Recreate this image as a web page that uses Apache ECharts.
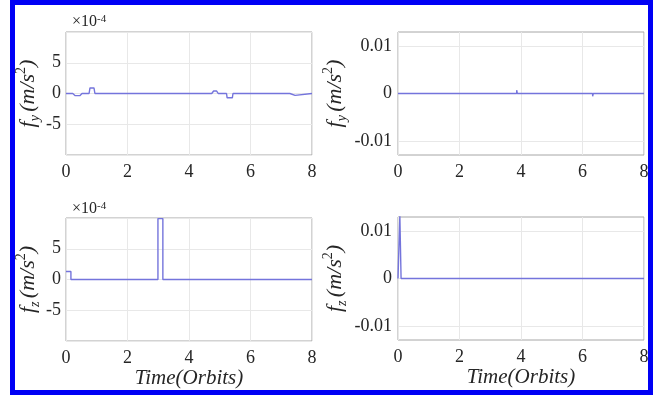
<!DOCTYPE html>
<html>
<head>
<meta charset="utf-8">
<script src="https://cdn.jsdelivr.net/npm/echarts@6/dist/echarts.min.js"></script>
<style>
  html, body { margin: 0; padding: 0; background: #fff; }
  #chart { width: 663px; height: 396px; }
</style>
</head>
<body>
<div id="chart"></div>
<script>
// Time axis (orbits)
const timeTicks = [0, 2, 4, 6, 8];

// f_y, left panel (units of 1e-4 m/s^2)
const fyLeftTime  = [0, 0.22, 0.3, 0.45, 0.52, 0.75, 0.78, 0.91, 0.94, 4.74, 4.8, 4.9, 4.95, 5.22, 5.24, 5.41, 5.43, 7.28, 7.33, 7.45, 7.5, 8];
const fyLeftValue = [0, 0, -0.35, -0.35, 0, 0, 0.9, 0.9, 0, 0, 0.4, 0.4, 0, 0, -0.7, -0.7, 0, 0, -0.3, -0.3, 0, 0];

// f_y, right panel (m/s^2)
const fyRightTime  = [0, 3.86, 3.86, 3.88, 3.88, 4.84, 4.84, 4.86, 4.86, 6.33, 6.33, 6.35, 6.35, 7.31, 7.31, 7.33, 7.33, 8];
const fyRightValue = [0, 0, 0.0007, 0.0007, 0, 0, 0.0004, 0.0004, 0, 0, -0.0006, -0.0006, 0, 0, -0.0004, -0.0004, 0, 0];

// f_z, left panel (units of 1e-4 m/s^2)
const fzLeftTime  = [0, 0.16, 0.16, 2.99, 2.99, 3.15, 3.15, 8];
const fzLeftValue = [1.3, 1.3, 0, 0, 9.9, 9.9, 0, 0];

// f_z, right panel (m/s^2)
const fzRightTime  = [0, 0.06, 0.06, 0.1, 0.1, 8];
const fzRightValue = [0, 0, 0.0133, 0.0133, 0, 0];

// Labelled y ticks
const leftTicks  = [-5, 0, 5];
const rightTicks = [-0.01, 0, 0.01];

const serif = '"Liberation Serif", "DejaVu Serif", serif';
const textColor = '#262626';
const lineColor = '#7474dc';
const gridColor = '#e8e8e8';
const frameColor = '#a6a6a6';

const grids = [
  { left: 66,  top: 32,  width: 246, height: 123 },
  { left: 398, top: 32,  width: 246, height: 123 },
  { left: 66,  top: 218, width: 246, height: 123 },
  { left: 398, top: 217, width: 246, height: 123 }
].map(g => Object.assign({ show: true, borderColor: frameColor, borderWidth: 1, backgroundColor: '#fff' }, g));

const nameRich = {
  i:   { fontFamily: serif, fontStyle: 'italic', fontSize: 22, color: textColor, lineHeight: 28 },
  sub: { fontFamily: serif, fontStyle: 'italic', fontSize: 14, color: textColor, verticalAlign: 'bottom' },
  sup: { fontFamily: serif, fontSize: 14, color: textColor, verticalAlign: 'top' }
};

function yName(sub) {
  return '{i|f}{sub|' + sub + '} {i|(m/s}{sup|2}{i|)}';
}

const hiddenLine = { show: false, onZero: false };

function xAxisFor(idx, withName) {
  return {
    type: 'value', gridIndex: idx, min: 0, max: 8, interval: 2,
    axisLine: hiddenLine, axisTick: { show: false },
    axisLabel: { fontFamily: serif, fontSize: 18, color: textColor, margin: 8 },
    splitLine: { show: true, lineStyle: { color: gridColor, width: 1 } },
    name: withName ? '{t|Time(Orbits)}' : '',
    nameLocation: 'middle', nameGap: 26,
    nameTextStyle: { rich: { t: { fontFamily: serif, fontStyle: 'italic', fontSize: 21, color: textColor } } }
  };
}

function yAxisLeft(idx, sub) {
  return {
    type: 'value', gridIndex: idx, min: -10, max: 10, interval: 5,
    axisLine: hiddenLine, axisTick: { show: false },
    axisLabel: {
      fontFamily: serif, fontSize: 18, color: textColor, margin: 5,
      formatter: v => (leftTicks.indexOf(v) >= 0 ? String(v) : '')
    },
    splitLine: { show: true, lineStyle: { color: gridColor, width: 1 } },
    name: yName(sub), nameLocation: 'middle', nameGap: 23,
    nameTextStyle: { rich: nameRich }
  };
}

function yAxisRight(idx, sub) {
  return {
    type: 'value', gridIndex: idx, min: -0.013, max: 0.013, interval: 0.001,
    axisLine: hiddenLine, axisTick: { show: false },
    axisLabel: {
      fontFamily: serif, fontSize: 18, color: textColor, margin: 6,
      formatter: v => {
        const r = Math.round(v * 1000);
        if (r % 10 !== 0) return '';
        return r === 0 ? '0' : String(r / 1000);
      }
    },
    splitLine: { show: false },
    name: yName(sub), nameLocation: 'middle', nameGap: 49,
    nameTextStyle: { rich: nameRich }
  };
}

function pairs(t, v) { return t.map((x, i) => [x, v[i]]); }

function lineSeries(idx, t, v) {
  return {
    type: 'line', xAxisIndex: idx, yAxisIndex: idx,
    data: pairs(t, v), showSymbol: false, symbol: 'none',
    lineStyle: { color: lineColor, width: 1.4 }, clip: true, silent: true, z: 20
  };
}

// horizontal grid lines at the labelled ticks of the right-hand panels
function gridLineSeries(idx, ticks) {
  return {
    type: 'line', xAxisIndex: idx, yAxisIndex: idx, data: [], silent: true, z: 1,
    markLine: {
      silent: true, symbol: 'none', label: { show: false }, animation: false,
      lineStyle: { color: gridColor, width: 1, type: 'solid' },
      data: ticks.map(y => ({ yAxis: y }))
    }
  };
}

const multStyle = {
  fontFamily: serif, fontWeight: 'normal', fontSize: 16, color: textColor,
  rich: { s: { fontFamily: serif, fontSize: 11, color: textColor, verticalAlign: 'top' } }
};

const chart = echarts.init(document.getElementById('chart'), null, { renderer: 'canvas' });
chart.setOption({
  animation: false,
  backgroundColor: '#fff',
  grid: grids,
  xAxis: [xAxisFor(0, false), xAxisFor(1, false), xAxisFor(2, true), xAxisFor(3, true)],
  yAxis: [yAxisLeft(0, 'y'), yAxisRight(1, 'y'), yAxisLeft(2, 'z'), yAxisRight(3, 'z')],
  title: [
    { text: '×10{s|-4}', left: 67, top: 9, textStyle: multStyle },
    { text: '×10{s|-4}', left: 67, top: 196, textStyle: multStyle }
  ],
  series: [
    gridLineSeries(1, rightTicks),
    gridLineSeries(3, rightTicks),
    lineSeries(0, fyLeftTime, fyLeftValue),
    lineSeries(1, fyRightTime, fyRightValue),
    lineSeries(2, fzLeftTime, fzLeftValue),
    lineSeries(3, fzRightTime, fzRightValue)
  ],
  graphic: [{
    type: 'rect', silent: true, z: 100,
    shape: { x: 12.5, y: 2.5, width: 638, height: 390 },
    style: { fill: 'none', stroke: '#0000f5', lineWidth: 5 }
  }]
});
</script>
</body>
</html>
